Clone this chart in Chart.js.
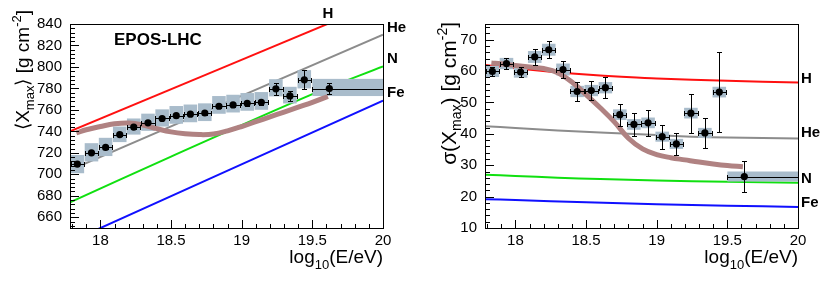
<!DOCTYPE html>
<html><head><meta charset="utf-8">
<script src="https://cdn.jsdelivr.net/npm/chart.js@4.4.0/dist/chart.umd.min.js"></script>
<style>
html,body{margin:0;padding:0;background:#fff;}
#wrap{position:relative;width:830px;height:283px;overflow:hidden;}
.c{position:absolute;top:0;width:415px;height:283px;}
</style></head><body>
<div id="wrap">
<div class="c" style="left:0"><canvas id="c1" width="415" height="283"></canvas></div>
<div class="c" style="left:415px"><canvas id="c2" width="415" height="283"></canvas></div>
</div>
<script>
// ---------- data ----------
const energy = [17.837,17.937,18.037,18.137,18.236,18.337,18.437,18.537,18.637,18.739,18.839,18.939,19.039,19.139,19.242,19.341,19.443,19.62];
const xErrLow  = [0.047,0.047,0.047,0.047,0.047,0.047,0.047,0.047,0.047,0.047,0.047,0.047,0.047,0.047,0.047,0.047,0.047,0.12];
const xErrHigh = [0.047,0.047,0.047,0.047,0.047,0.047,0.047,0.047,0.047,0.047,0.047,0.047,0.047,0.047,0.047,0.047,0.047,0.38];

const xmaxMean  = [709.5,720,725,737,744,748,752,754.6,756,757.1,763.4,764.6,766.2,767.1,779.6,773,788,779.9];
const xmaxStat  = [2,1.5,1.5,1.5,1.5,1.5,1.5,1.5,1.5,1.8,2,2,2.2,2.5,5.5,5,9,5];
const xmaxSysUp = [8.5,9,9,7.5,8,8.5,8.5,9,9,9,9.5,9.5,9.5,9.5,9,8.5,9,9];
const xmaxSysLo = [8.5,8,8,7,7,7.5,7.5,7.5,7.5,7.5,7,7,7,7,7,7,8,7];

const sigmaMean  = [59.9,62.4,59.7,64.5,66.8,60.5,53.5,53.8,54.7,46.1,43.0,43.5,39.1,36.8,46.6,40.3,53.3,26.4];
const sigmaStat  = [1.5,1.8,1.7,2.6,2.7,2.8,3,3,3.4,3.5,3.6,4.1,3.8,3.6,6.2,4.9,12.8,4.8];
const sigmaSys   = [1.8,1.8,1.8,1.9,1.9,1.9,1.8,1.8,1.8,1.7,1.7,1.7,1.6,1.6,1.7,1.6,1.7,1.6];

// composition predictions (EPOS-LHC)
const xmaxH  = [{x:17.785,y:740},{x:20,y:861.6}];
const xmaxHe = [{x:17.785,y:704},{x:20,y:830}];
const xmaxN  = [{x:17.785,y:674},{x:18.5,y:716.5},{x:19.48,y:773.5},{x:20,y:800.5}];
const xmaxFe = [{x:17.785,y:637.2},{x:20,y:768.7}];

const sigH  = [{x:17.785,y:61.9},{x:18.0,y:60.9},{x:18.25,y:59.8},{x:18.5,y:58.9},{x:18.75,y:58.2},{x:19.0,y:57.6},{x:19.5,y:56.9},{x:20,y:56.4}];
const sigHe = [{x:17.785,y:42.4},{x:18.0,y:41.9},{x:18.3,y:41.1},{x:18.6,y:40.4},{x:19.0,y:39.6},{x:19.25,y:39.1},{x:19.5,y:38.8},{x:20,y:38.5}];
const sigN  = [{x:17.785,y:27.0},{x:18.0,y:26.6},{x:18.3,y:26.0},{x:18.6,y:25.6},{x:19.0,y:25.1},{x:19.5,y:24.7},{x:20,y:24.4}];
const sigFe = [{x:17.785,y:19.2},{x:18.0,y:18.9},{x:18.5,y:18.2},{x:19.0,y:17.6},{x:19.5,y:17.1},{x:20,y:16.7}];

// fitted mixture (thick brown curve)
const fitE    = [17.83,17.9,18.0,18.1,18.2,18.3,18.4,18.5,18.6,18.7,18.8,18.9,19.0,19.1,19.2,19.3,19.4,19.5,19.61];
const fitXmax = [738.5,741.5,744.5,747,747.8,746,742.5,739.5,737.8,737,737.5,740.5,744.5,749,753.5,758,762.5,767,772.5];
const fitSig  = [62.6,62.3,61.8,61.3,60.8,59.5,56.5,52.5,48.3,43.8,38.6,35.2,33.4,32.4,31.7,31.0,30.4,29.9,29.5];

// ticks
const xTicks = [18,18.5,19,19.5,20];
const xTickLabels = ['18','18.5','19','19.5','20'];
const yTicksL = [660,680,700,720,740,760,780,800,820,840];
const yTicksR = [10,20,30,40,50,60,70];

// ---------- helpers ----------
const FONT = '"Liberation Sans", Arial, Helvetica, sans-serif';
const C = {H:'#ff1010', He:'#8c8c8c', N:'#10e010', Fe:'#1010ff', fit:'#b08282', box:'#a9bccb'};

function rich(ctx, parts, x, y, rotate) {
  ctx.save();
  ctx.translate(x, y);
  if (rotate) ctx.rotate(-Math.PI/2);
  let w = 0;
  parts.forEach(p => { ctx.font = (p.b?'bold ':'') + p.s + 'px ' + FONT; w += ctx.measureText(p.t).width; });
  let cx = -w;
  ctx.fillStyle = '#000';
  ctx.textBaseline = 'alphabetic';
  ctx.textAlign = 'left';
  parts.forEach(p => { ctx.font = (p.b?'bold ':'') + p.s + 'px ' + FONT; ctx.fillText(p.t, cx, p.dy||0); cx += ctx.measureText(p.t).width; });
  ctx.restore();
}

const decor = {
  id: 'decor',
  beforeDatasetDraw(chart, args, opts) {
    const ds = chart.data.datasets[args.index];
    const {ctx, chartArea:a, scales:{x, y}} = chart;
    if (ds.role === 'fit') {
      ctx.save();
      ctx.beginPath(); ctx.rect(a.left, a.top, a.right-a.left, a.bottom-a.top); ctx.clip();
      ctx.fillStyle = C.box;
      opts.vals.forEach((v, i) => {
        const x0 = x.getPixelForValue(opts.e[i] - (i === opts.e.length-1 ? xErrLow[i] : 0.048));
        const x1 = x.getPixelForValue(opts.e[i] + (i === opts.e.length-1 ? xErrHigh[i] : 0.048));
        const y0 = y.getPixelForValue(v + opts.sysUp[i]);
        const y1 = y.getPixelForValue(v - opts.sysLo[i]);
        ctx.fillRect(x0, y0, x1-x0, y1-y0);
      });
      ctx.restore();
    }
    if (ds.role === 'data') {
      ctx.save();
      ctx.beginPath(); ctx.rect(a.left, a.top, a.right-a.left, a.bottom-a.top); ctx.clip();
      ctx.strokeStyle = '#000'; ctx.lineWidth = 1;
      ctx.beginPath();
      opts.vals.forEach((v, i) => {
        const px = Math.round(x.getPixelForValue(opts.e[i])) + 0.5;
        const py = Math.round(y.getPixelForValue(v)) + 0.5;
        const xl = Math.round(x.getPixelForValue(opts.e[i] - xErrLow[i])) + 0.5;
        const xr = Math.round(x.getPixelForValue(opts.e[i] + xErrHigh[i])) + 0.5;
        const yt = Math.round(y.getPixelForValue(v + opts.stat[i])) + 0.5;
        const yb = Math.round(y.getPixelForValue(v - opts.stat[i])) + 0.5;
        ctx.moveTo(xl, py); ctx.lineTo(xr, py);
        ctx.moveTo(px, yt); ctx.lineTo(px, yb);
        ctx.moveTo(xl, py-2.5); ctx.lineTo(xl, py+2.5);
        ctx.moveTo(xr, py-2.5); ctx.lineTo(xr, py+2.5);
        ctx.moveTo(px-2.5, yt); ctx.lineTo(px+2.5, yt);
        ctx.moveTo(px-2.5, yb); ctx.lineTo(px+2.5, yb);
      });
      ctx.stroke();
      ctx.restore();
    }
  },
  afterDraw(chart, args, opts) {
    const {ctx, chartArea:a, scales:{x, y}} = chart;
    ctx.save();
    ctx.strokeStyle = '#000'; ctx.lineWidth = 1;
    ctx.strokeRect(Math.round(a.left)+0.5, Math.round(a.top)+0.5, Math.round(a.right-a.left), Math.round(a.bottom-a.top));
    ctx.beginPath();
    for (let i = 178; i <= 200; i++) {
      const v = i/10;
      if (v < x.min) continue;
      const px = Math.round(x.getPixelForValue(v)) + 0.5;
      const len = (i % 5 === 0) ? 8 : 4;
      ctx.moveTo(px, a.bottom); ctx.lineTo(px, a.bottom - len);
    }
    const ymaj = opts.yMajor, ymin = opts.yMinor;
    for (let k = Math.ceil(y.min/ymin); k*ymin <= y.max + 1e-9; k++) {
      const v = k*ymin;
      const py = Math.round(y.getPixelForValue(v)) + 0.5;
      const isMaj = Math.abs(v/ymaj - Math.round(v/ymaj)) < 1e-6;
      const len = isMaj ? 9 : 5;
      ctx.moveTo(a.left, py); ctx.lineTo(a.left + len, py);
    }
    ctx.stroke();
    ctx.restore();
    rich(ctx, [{t:'log',s:19},{t:'10',s:13,dy:6},{t:'(E/eV)',s:19}], a.right, 263, false);
    rich(ctx, opts.yTitle, opts.yTitleX, opts.yTitleY, true);
    ctx.save();
    ctx.fillStyle = '#000';
    ctx.textBaseline = 'alphabetic';
    opts.labels.forEach(l => {
      ctx.font = 'bold ' + l.s + 'px ' + FONT;
      ctx.textAlign = l.align || 'left';
      ctx.fillText(l.t, l.x, l.y);
    });
    ctx.restore();
  }
};

function makeChart(id, cfg) {
  return new Chart(document.getElementById(id), {
    type: 'scatter',
    data: { datasets: [
      {role:'data', data: cfg.e.map((e,i)=>({x:e, y:cfg.vals[i]})), pointRadius:3.6, pointBackgroundColor:'#000', pointBorderColor:'#000', pointBorderWidth:0, showLine:false, order:0},
      {role:'fit', data: cfg.fit, showLine:true, borderColor:C.fit, borderWidth:5, pointRadius:0, tension:0.4, order:1},
      {data: cfg.lines.H,  showLine:true, borderColor:C.H,  borderWidth:2, pointRadius:0, tension:0.3, order:2},
      {data: cfg.lines.He, showLine:true, borderColor:C.He, borderWidth:2, pointRadius:0, tension:0.3, order:3},
      {data: cfg.lines.N,  showLine:true, borderColor:C.N,  borderWidth:2, pointRadius:0, tension:0.3, order:4},
      {data: cfg.lines.Fe, showLine:true, borderColor:C.Fe, borderWidth:2, pointRadius:0, tension:0.3, order:5}
    ]},
    options: {
      responsive:false, animation:false, devicePixelRatio:1,
      layout:{padding:{top:24, right:32, left:0, bottom:0}},
      plugins:{legend:{display:false}, tooltip:{enabled:false}, decor: cfg.decor},
      scales:{
        x:{type:'linear', min:17.785, max:20,
           afterBuildTicks: s => { s.ticks = xTicks.map(v=>({value:v})); },
           afterFit: s => { s.height = 55; },
           grid:{display:false, drawTicks:false}, border:{display:false},
           ticks:{autoSkip:false, maxRotation:0, padding:4, color:'#000', font:{family:FONT, size:15},
                  callback:(v)=>{ const i = xTicks.indexOf(v); return i>=0 ? xTickLabels[i] : ''; }}},
        y:{type:'linear', min:cfg.ymin, max:cfg.ymax,
           afterBuildTicks: s => { s.ticks = cfg.yTicks.map(v=>({value:v})); },
           afterFit: s => { s.width = 70; },
           grid:{display:false, drawTicks:false}, border:{display:false},
           ticks:{autoSkip:false, padding:8, color:'#000', font:{family:FONT, size:15}, callback:(v)=>String(v)}}
      }
    },
    plugins:[decor]
  });
}

makeChart('c1', {
  e: energy, vals: xmaxMean, fit: fitE.map((e,i)=>({x:e, y:fitXmax[i]})),
  lines:{H:xmaxH, He:xmaxHe, N:xmaxN, Fe:xmaxFe},
  ymin:650, ymax:840, yTicks:yTicksL,
  decor:{e:energy, vals:xmaxMean, stat:xmaxStat, sysUp:xmaxSysUp, sysLo:xmaxSysLo, yMajor:20, yMinor:4,
    yTitle:[{t:'\u27E8X',s:19},{t:'max',s:13,dy:5},{t:'\u27E9 [g cm',s:19},{t:'-2',s:13,dy:-8},{t:']',s:19}],
    yTitleX:29, yTitleY:10,
    labels:[{t:'EPOS-LHC',s:17,x:114,y:45},{t:'H',s:15,x:328,y:18,align:'center'},{t:'He',s:15,x:387,y:32},{t:'N',s:15,x:387,y:63},{t:'Fe',s:15,x:387,y:97}]}
});

makeChart('c2', {
  e: energy, vals: sigmaMean, fit: fitE.map((e,i)=>({x:e, y:fitSig[i]})),
  lines:{H:sigH, He:sigHe, N:sigN, Fe:sigFe},
  ymin:10, ymax:75, yTicks:yTicksR,
  decor:{e:energy, vals:sigmaMean, stat:sigmaStat, sysUp:sigmaSys, sysLo:sigmaSys, yMajor:10, yMinor:2,
    yTitle:[{t:'\u03C3(X',s:21},{t:'max',s:14,dy:5},{t:') [g cm',s:21},{t:'-2',s:14,dy:-9},{t:']',s:21}],
    yTitleX:41, yTitleY:22,
    labels:[{t:'H',s:15,x:386,y:83},{t:'He',s:15,x:386,y:137},{t:'N',s:15,x:386,y:183},{t:'Fe',s:15,x:386,y:207}]}
});
</script>
</body></html>
